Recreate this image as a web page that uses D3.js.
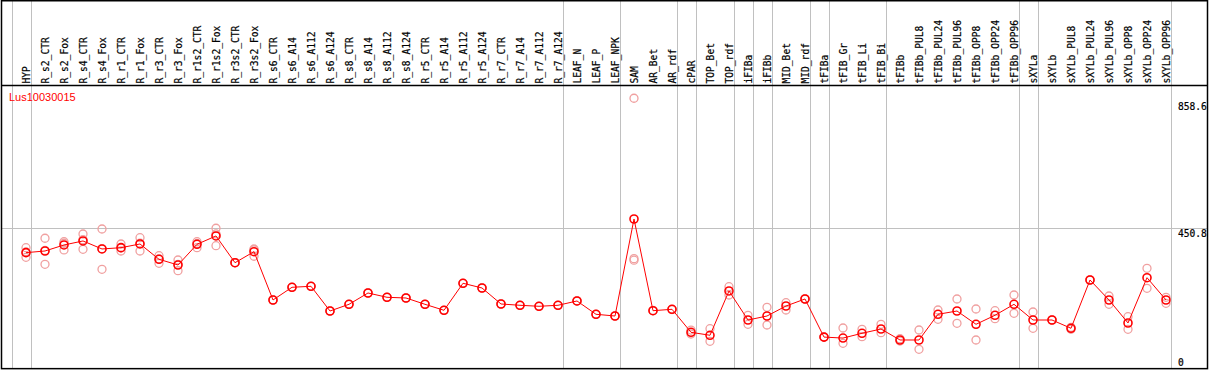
<!DOCTYPE html>
<html>
<head>
<meta charset="utf-8">
<script src="https://cdn.jsdelivr.net/npm/d3@7"></script>
<style>
  body { margin: 0; background: #fff; }
  svg { display: block; }
</style>
</head>
<body>
<svg id="chart" width="1209" height="370"></svg>
<script>
const geneName = "Lus10030015";

const samples = ["HYP", "R_s2_CTR", "R_s2_Fox", "R_s4_CTR", "R_s4_Fox", "R_r1_CTR", "R_r1_Fox",
  "R_r3_CTR", "R_r3_Fox", "R_r1s2_CTR", "R_r1s2_Fox", "R_r3s2_CTR", "R_r3s2_Fox",
  "R_s6_CTR", "R_s6_A14", "R_s6_A112", "R_s6_A124", "R_s8_CTR", "R_s8_A14", "R_s8_A112", "R_s8_A124",
  "R_r5_CTR", "R_r5_A14", "R_r5_A112", "R_r5_A124", "R_r7_CTR", "R_r7_A14", "R_r7_A112", "R_r7_A124",
  "LEAF_N", "LEAF_P", "LEAF_NPK", "SAM", "AR_Bet", "AR_rdf", "cPAR", "TOP_Bet", "TOP_rdf",
  "iFIBa", "iFIBb", "MID_Bet", "MID_rdf", "tFIBa", "tFIB_Gr", "tFIB_Li", "tFIB_Bi",
  "tFIBb", "tFIBb_PUL8", "tFIBb_PUL24", "tFIBb_PUL96", "tFIBb_OPP8", "tFIBb_OPP24", "tFIBb_OPP96",
  "sXYLa", "sXYLb", "sXYLb_PUL8", "sXYLb_PUL24", "sXYLb_PUL96", "sXYLb_OPP8", "sXYLb_OPP24", "sXYLb_OPP96"];

// mean expression per sample
const means = [372.3, 377.7, 397.1, 410.0, 384.2, 388.4, 400.3, 351.0, 332.6, 399.3, 426.1, 340.0, 375.5,
  219.9, 260.8, 264.0, 184.4, 206.0, 242.4, 228.6, 226.3,
  206.0, 186.7, 273.7, 258.5, 207.0, 202.8, 199.6, 202.8,
  216.7, 173.8, 168.3, 480.8, 185.4, 189.9, 115.8, 106.2, 248.9,
  155.4, 168.3, 200.5, 223.1, 100.4, 97.2, 112.6, 126.4,
  91.0, 91.0, 173.8, 184.4, 141.6, 170.6, 206.0,
  155.4, 155.4, 128.7, 284.3, 219.9, 145.8, 291.7, 219.9];

// replicate values per sample
const replicates = [
  [388.4, 357.4, 374.5], [418.7, 334.9, 379.5], [407.7, 381.0, 402.6], [432.5, 383.2, 414.3],
  [448.6, 318.8, 385.2], [400.3, 377.7, 387.2], [420.6, 377.7, 402.6], [362.6, 338.1, 352.3],
  [348.7, 314.3, 334.8], [407.7, 388.4, 401.8], [450.9, 394.8, 432.6], [340.0, 340.0, 340.0],
  [384.2, 360.7, 381.6],
  [219.9, 219.9], [260.8, 260.8], [264.0, 264.0], [184.4, 184.4], [206.0, 206.0], [242.4, 242.4],
  [228.6, 228.6], [226.3, 226.3], [206.0, 206.0], [186.7, 186.7], [273.7, 273.7], [258.5, 258.5],
  [207.0, 207.0], [202.8, 202.8], [199.6, 199.6], [202.8, 202.8],
  [216.7, 216.7], [173.8, 173.8], [168.3, 168.3],
  [869.7, 353.0, 348.0], [185.4, 186.0], [189.9, 189.0], [110.3, 123.0], [127.4, 86.8], [262.7, 236.0],
  [170.6, 141.6], [196.4, 139.3], [211.2, 187.7], [223.1, 223.1], [100.4, 100.4],
  [129.7, 80.4], [125.5, 101.6], [141.6, 114.5],
  [95.2, 87.8], [123.2, 61.1], [187.7, 157.7], [223.1, 144.8], [190.9, 91.0], [185.4, 159.6], [236.0, 177.0],
  [181.2, 128.7], [155.4, 155.4], [131.9, 125.5], [284.3, 284.3], [232.8, 206.0], [166.1, 125.5],
  [322.0, 257.6], [228.6, 209.2]];

// vertical separators are drawn after these samples
const groupEnds = ["HYP", "R_r7_A124", "LEAF_NPK", "AR_rdf", "cPAR", "TOP_rdf", "iFIBa", "iFIBb",
  "MID_rdf", "tFIBa", "tFIB_Bi", "tFIBb_OPP96", "sXYLa", "sXYLb_OPP96"];

const yTicks = [858.6, 450.8, 0];

const headerBottom = 85;

const svg = d3.select("#chart");

const x = d3.scalePoint().domain(samples).range([26, 1166]);
const step = x.step();
const y = d3.scaleLinear().domain([0, 858.6]).range([368.25, 101.7]);

// gridline at middle tick
svg.append("line")
  .attr("x1", 2).attr("x2", 1207)
  .attr("y1", Math.round(y(450.8)) + 0.5).attr("y2", Math.round(y(450.8)) + 0.5)
  .attr("stroke", "#c0c0c0").attr("stroke-width", 1);

// group separators
const sepX = [x(samples[0]) - step + 4.5].concat(groupEnds.map(d => x(d) + 4.5));
svg.append("g").selectAll("line").data(sepX).join("line")
  .attr("x1", d => Math.round(d) + 0.5).attr("x2", d => Math.round(d) + 0.5)
  .attr("y1", 0).attr("y2", 369)
  .attr("stroke", "#c0c0c0").attr("stroke-width", 1);

// header labels
svg.append("g").selectAll("text").data(samples).join("text")
  .attr("transform", d => `translate(${Math.round(x(d)) + 3.5},${headerBottom - 1.5}) rotate(-90)`)
  .attr("font-family", "DejaVu Sans Mono, monospace")
  .attr("font-size", "9.6px")
  .attr("fill", "#000")
  .attr("stroke", "#000").attr("stroke-width", 0.2)
  .text(d => d);

// frame
svg.append("line").attr("x1", 1).attr("x2", 1208).attr("y1", headerBottom + 0.5).attr("y2", headerBottom + 0.5)
  .attr("stroke", "#000").attr("stroke-width", 1.5);
svg.append("rect").attr("x", 1.5).attr("y", 0.75).attr("width", 1206).attr("height", 367.9)
  .attr("fill", "none").attr("stroke", "#000").attr("stroke-width", 1.5);

// gene name
svg.append("text")
  .attr("x", 9).attr("y", 100.5)
  .attr("font-family", "Liberation Sans, Arial, sans-serif")
  .attr("font-size", "11px")
  .attr("fill", "#ff0000")
  .text(geneName);

// right axis labels
svg.append("g").selectAll("text").data(yTicks).join("text")
  .attr("x", 1178)
  .attr("y", d => Math.min(y(d) + 8.5, 365.5))
  .attr("font-family", "DejaVu Sans Mono, monospace")
  .attr("font-size", "9.6px")
  .attr("fill", "#000")
  .attr("stroke", "#000").attr("stroke-width", 0.2)
  .text(d => d);

// replicates
const reps = [];
replicates.forEach((vals, i) => vals.forEach(v => reps.push({ s: samples[i], v })));
svg.append("g").selectAll("circle").data(reps).join("circle")
  .attr("cx", d => x(d.s)).attr("cy", d => y(d.v)).attr("r", 4)
  .attr("fill", "none").attr("stroke", "#f0a0a0").attr("stroke-width", 1.3);

// mean line
const line = d3.line().x((d, i) => x(samples[i])).y(d => y(d));
svg.append("path").datum(means)
  .attr("d", line)
  .attr("fill", "none").attr("stroke", "#ff0000").attr("stroke-width", 1);

svg.append("g").selectAll("circle").data(means).join("circle")
  .attr("cx", (d, i) => x(samples[i])).attr("cy", d => y(d)).attr("r", 4)
  .attr("fill", "none").attr("stroke", "#ff0000").attr("stroke-width", 1.6);
</script>
</body>
</html>
